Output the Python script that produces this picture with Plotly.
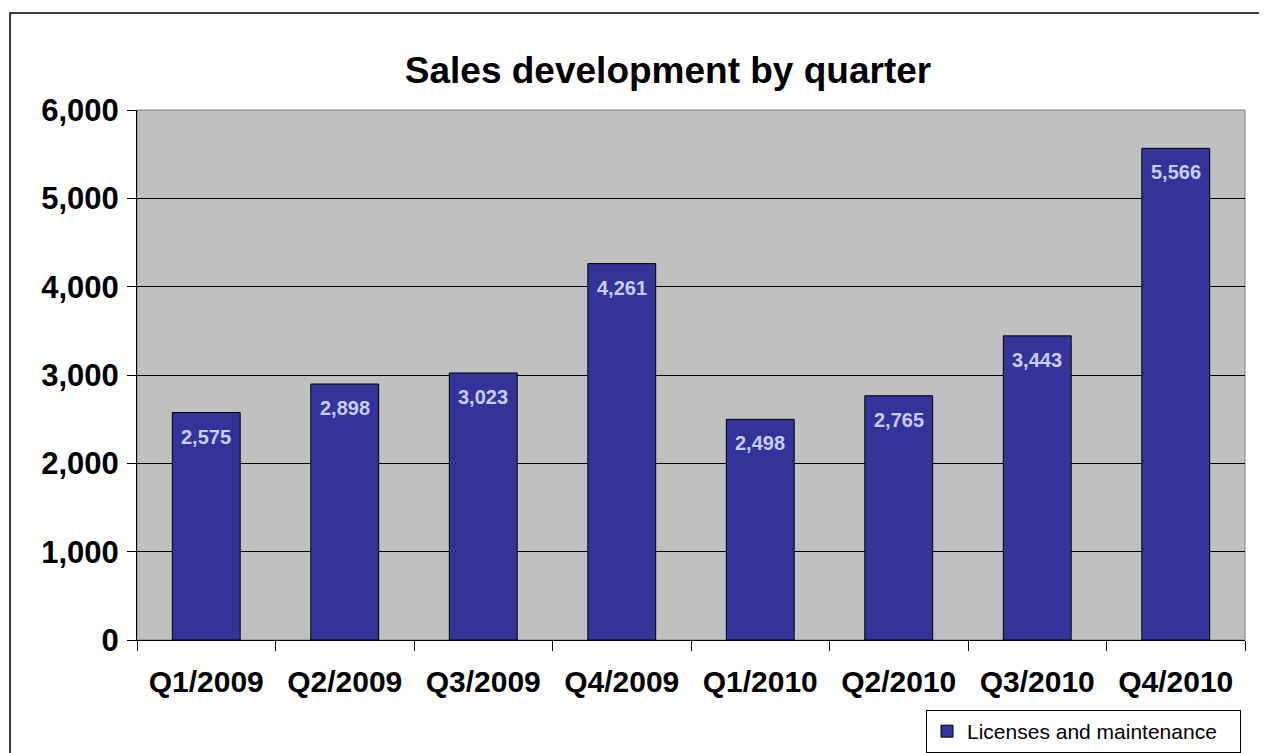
import plotly.graph_objects as go

categories = ["Q1/2009", "Q2/2009", "Q3/2009", "Q4/2009", "Q1/2010", "Q2/2010", "Q3/2010", "Q4/2010"]
values = [2575, 2898, 3023, 4261, 2498, 2765, 3443, 5566]
series_name = "Licenses and maintenance"
y_ticks = [0, 1000, 2000, 3000, 4000, 5000, 6000]

FONT = "Liberation Sans, Arial, sans-serif"
W, H = 1267, 753
OFF = 8  # page body margin offset
L, T = 137 - OFF, 110 - OFF
R = W - (1245 - OFF)
B = H - (640 - OFF)
pw, ph = W - L - R, H - T - B

fig = go.Figure()
fig.add_trace(go.Bar(
    x=categories, y=values, name=series_name + "\u00a0\u00a0\u00a0",
    marker=dict(color="#333399", line=dict(color="#000000", width=1)),
    showlegend=True,
))

annotations = []
for c, v in zip(categories, values):
    annotations.append(dict(
        x=c, y=v, xref="x", yref="y", text=f"{v:,}", showarrow=False,
        yanchor="middle", yshift=-24,
        font=dict(family=FONT, size=20, color="#CCCCFF", weight="bold"),
    ))

def px_x(p):
    return (p - OFF - L) / pw

def px_y(p):
    return (H - B - (p - OFF)) / ph

fig.update_layout(
    width=W, height=H,
    margin=dict(l=L, r=R, t=T, b=B, autoexpand=False),
    paper_bgcolor="#FFFFFF",
    plot_bgcolor="#C0C0C0",
    bargap=0.51,
    title=dict(text="<b>Sales development by quarter</b>", x=(668 - OFF) / W, xanchor="center",
               y=1 - (70 - OFF) / H, yanchor="middle", yref="container",
               font=dict(family=FONT, size=37, color="#000000")),
    font=dict(family=FONT, color="#000000"),
    xaxis=dict(
        type="category", tickson="boundaries", ticks="outside", ticklen=10,
        tickcolor="#000000", showline=True, linecolor="#000000", linewidth=1,
        showgrid=False, tickfont=dict(family=FONT, size=30, weight="bold"),
        ticklabelstandoff=15,
    ),
    yaxis=dict(
        range=[0, 6000], tickvals=y_ticks, tickformat=",", ticks="outside", ticklen=9,
        tickcolor="#000000", showline=True, linecolor="#000000", linewidth=1,
        showgrid=True, gridcolor="#000000", gridwidth=1, zeroline=False,
        tickfont=dict(family=FONT, size=31, weight="bold"),
        ticklabelstandoff=2,
    ),
    legend=dict(
        x=px_x(1241), xanchor="right", y=px_y(710), yanchor="top",
        bgcolor="#FFFFFF", bordercolor="#000000", borderwidth=1,
        font=dict(family=FONT, size=21, color="#000000"),
    ),
    annotations=annotations,
    shapes=[
        dict(type="rect", xref="paper", yref="paper", x0=0, x1=1, y0=0, y1=1,
             line=dict(color="#808080", width=1), layer="below"),
        dict(type="rect", xref="paper", yref="paper",
             x0=px_x(10), x1=px_x(1290), y0=px_y(790), y1=px_y(13),
             line=dict(color="#000000", width=1.5), fillcolor="rgba(0,0,0,0)"),
    ],
)

fig.write_html("out.html")
